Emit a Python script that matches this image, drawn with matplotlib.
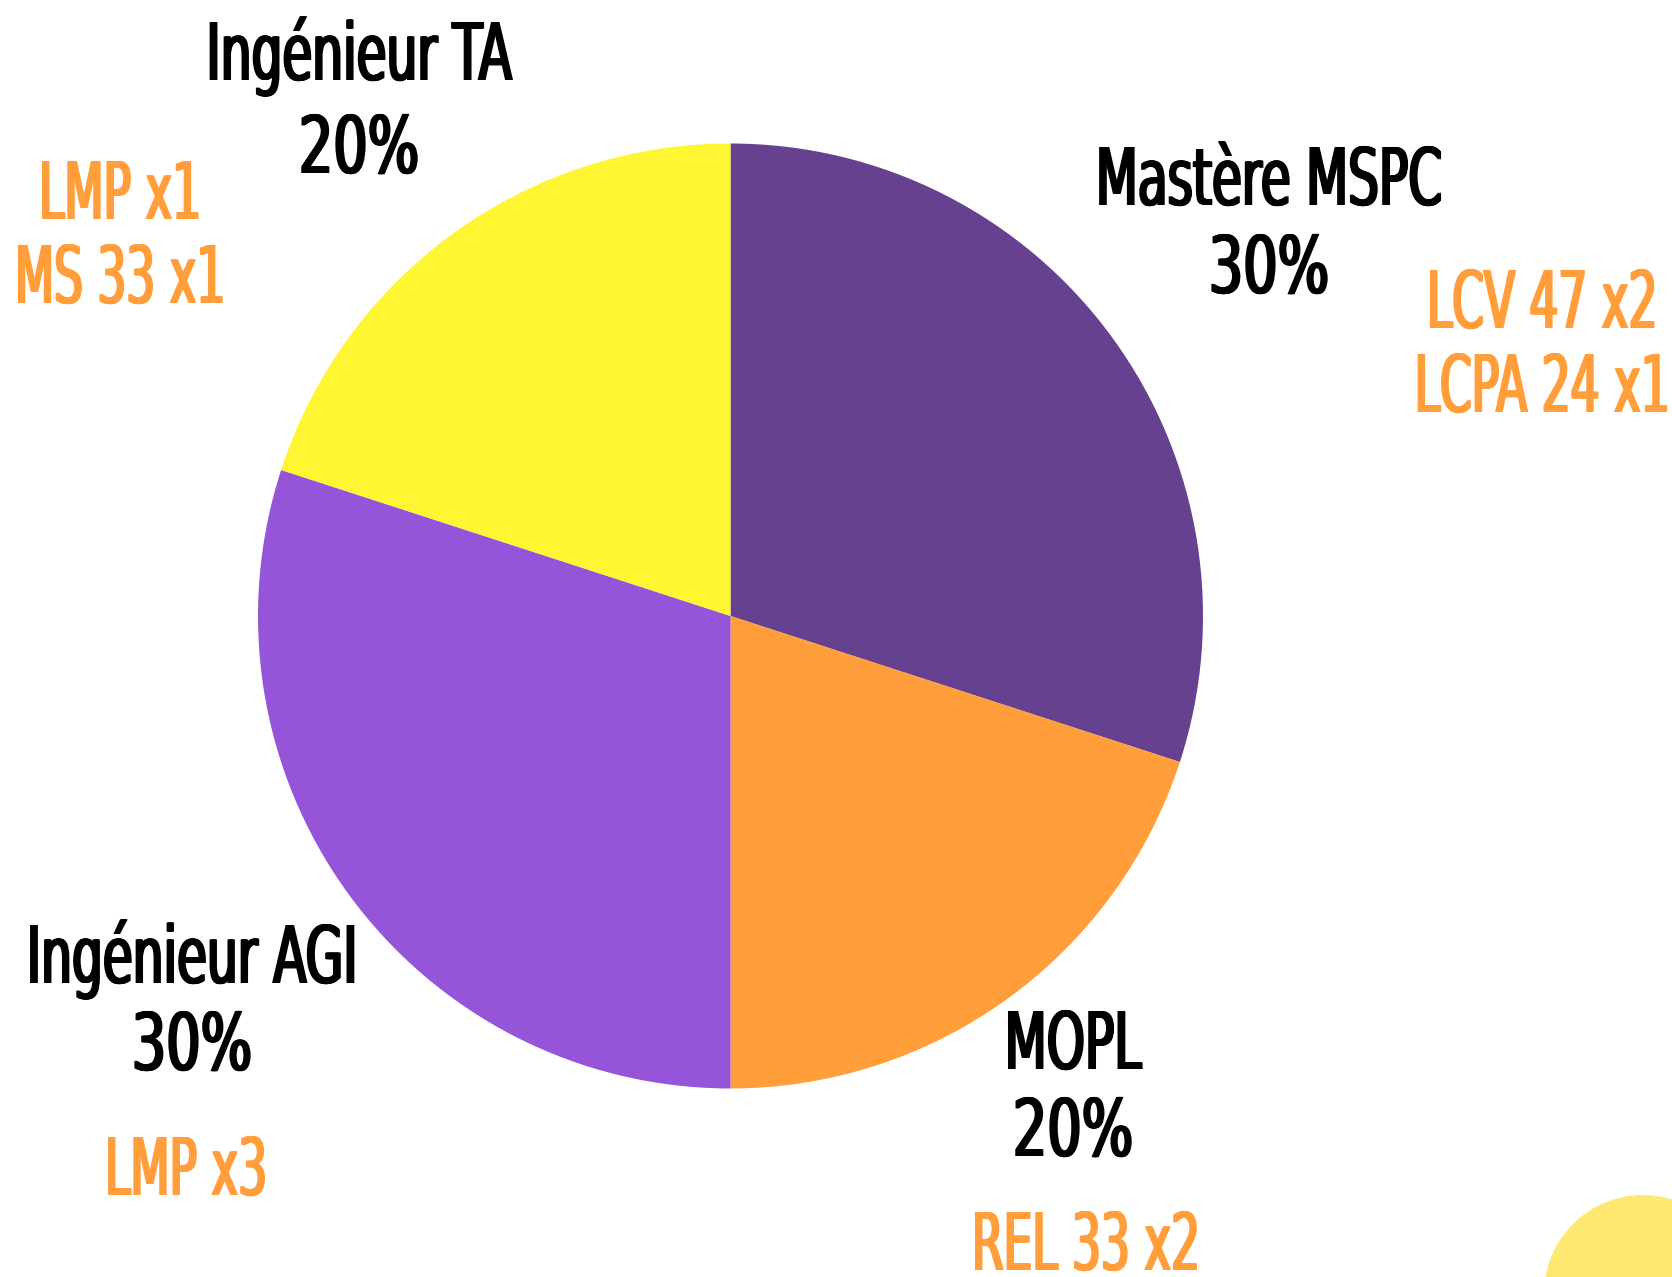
import numpy as np
import matplotlib
matplotlib.use("Agg")
import matplotlib.pyplot as plt
from matplotlib.patches import Circle
from matplotlib.patheffects import AbstractPathEffect
from matplotlib.transforms import Affine2D

# --- data -------------------------------------------------------------
categories = ["Mastère MSPC", "MOPL", "Ingénieur AGI", "Ingénieur TA"]
shares = [30, 20, 30, 20]
details = [["LCV 47 x2", "LCPA 24 x1"], ["REL 33 x2"], ["LMP x3"], ["LMP x1", "MS 33 x1"]]
slice_colors = ["#66418F", "#FF9E3A", "#9654D9", "#FFF533"]

TEXT_ORANGE = "#FF9E3A"
W, H = 1672, 1277
CAP_PX = 58          # cap height of every label, in pixels
DEJAVU_CAP = 0.729   # DejaVu Sans cap height, in em


class TallGothic(AbstractPathEffect):
    """Stretch glyphs vertically from the baseline and thicken vertical
    stems a little, giving a tall, narrow gothic look."""

    def __init__(self, sy=1.75, smear=1.5, steps=5):
        super().__init__()
        self.sy = sy
        self.offsets = np.linspace(-smear, smear, steps)

    def draw_path(self, renderer, gc, tpath, affine, rgbFace=None):
        base = Affine2D().scale(1, self.sy) + affine
        for dx in self.offsets:
            renderer.draw_path(gc, tpath, base + Affine2D().translate(dx, 0), rgbFace)


def gothic(size):
    sy = CAP_PX / (DEJAVU_CAP * size * 100 / 72)
    return dict(family="DejaVu Sans", weight="normal", size=size,
                path_effects=[TallGothic(sy, 1.5)])


fig = plt.figure(figsize=(W / 100, H / 100), dpi=100)
ax = fig.add_axes([0, 0, 1, 1])

ax.pie(shares, colors=slice_colors, startangle=90, counterclock=False,
       center=(730.5, H - 616), radius=472.5,
       wedgeprops=dict(linewidth=0))

# decorative disc in the lower-right corner
ax.add_patch(Circle((1643, H - 1294), 99, facecolor="#FFE872", edgecolor="none"))

ax.set_xlim(0, W)
ax.set_ylim(0, H)
ax.set_aspect("equal")
ax.axis("off")

title_font = gothic(35.0)
pct_font = gothic(39.0)
detail_font = gothic(32.7)


def put(x, baseline, s, color, font):
    ax.text(x, H - baseline, s, ha="center", va="baseline", color=color, **font)


# (x centre, title baseline, pct baseline, detail x, detail baselines)
layout = [
    (1269, 205, 293, 1542, [328, 412]),
    (1073, 1069, 1156, 1086, [1270]),
    (192, 983, 1070, 186, [1195]),
    (359, 80, 173, 120, [219, 303]),
]

for cat, pct, det, (x, yb, yp, dx, dys) in zip(categories, shares, details, layout):
    put(x, yb, cat, "black", title_font)
    put(x, yp, f"{pct}%", "black", pct_font)
    for s, yd in zip(det, dys):
        put(dx, yd, s, TEXT_ORANGE, detail_font)

fig.savefig("out.png", dpi=100, facecolor="white")
